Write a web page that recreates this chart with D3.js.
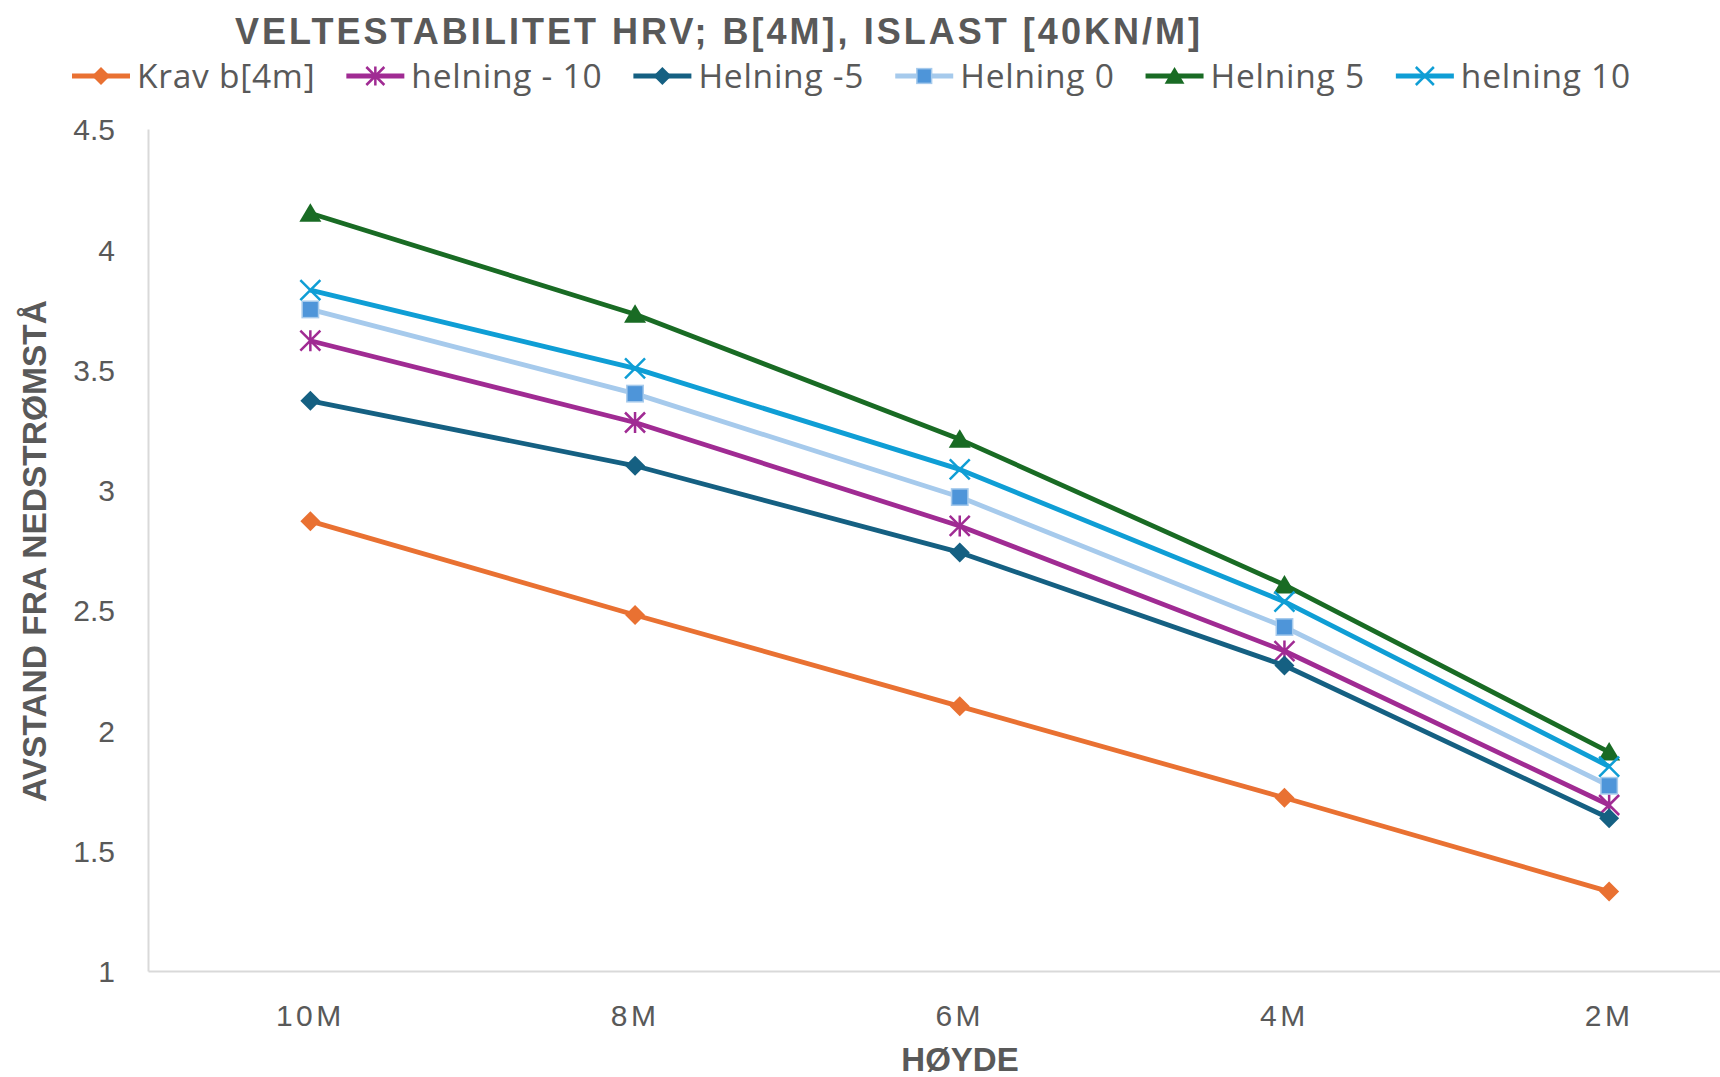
<!DOCTYPE html>
<html>
<head>
<meta charset="utf-8">
<script src="https://cdn.jsdelivr.net/npm/d3@7"></script>
<style>
  html, body { margin: 0; padding: 0; background: #fff; }
  svg { display: block; }
</style>
</head>
<body>
<svg id="chart" width="1720" height="1077"></svg>
<script>
// Heights along the structure (x axis) and tick labels
const categories = ["10M", "8M", "6M", "4M", "2M"];
const yTicks = [1, 1.5, 2, 2.5, 3, 3.5, 4, 4.5];

// Series names
const seriesNames = ["Krav b[4m]", "helning - 10", "Helning -5", "Helning 0", "Helning 5", "helning 10"];

// Distance values per series, one per height
const kravB4m   = [2.87, 2.48, 2.10, 1.72, 1.33];
const helningM10 = [3.62, 3.28, 2.85, 2.33, 1.69];
const helningM5  = [3.37, 3.10, 2.74, 2.27, 1.635];
const helning0   = [3.75, 3.40, 2.97, 2.43, 1.77];
const helning5   = [4.15, 3.73, 3.21, 2.605, 1.91];
const helning10  = [3.83, 3.505, 3.085, 2.535, 1.85];

const seriesValues = [kravB4m, helningM10, helningM5, helning0, helning5, helning10];

// Visual style per series
const styles = [
  { line: "#E97132", fill: "#E97132", stroke: "none",    marker: "diamond" },
  { line: "#A02B93", fill: "none",    stroke: "#A02B93", marker: "asterisk" },
  { line: "#156082", fill: "#156082", stroke: "none",    marker: "diamond" },
  { line: "#A6CAEC", fill: "#4E95D9", stroke: "#A6CAEC", marker: "square" },
  { line: "#196B24", fill: "#196B24", stroke: "none",    marker: "triangle" },
  { line: "#0F9ED5", fill: "none",    stroke: "#0F9ED5", marker: "cross" }
];

const svg = d3.select("#chart");
const textColor = "#595959";

// Plot area (continues past the right edge of the page)
const plot = { left: 148, right: 1771.5, top: 129, bottom: 971 };

const x = d3.scaleBand().domain(categories).range([plot.left, plot.right]);
const y = d3.scaleLinear().domain([1, 4.5]).range([plot.bottom, plot.top]);
const cx = c => x(c) + x.bandwidth() / 2;

// Axes
const yAxis = d3.axisLeft(y).tickValues(yTicks).tickSize(0).tickPadding(33)
  .tickFormat(d => String(d));
const gy = svg.append("g").attr("transform", `translate(${plot.left},0)`).call(yAxis);
gy.select(".domain").attr("stroke", "#d9d9d9").attr("stroke-width", 2);
gy.selectAll("text")
  .attr("font-family", "'Liberation Sans', Arial, sans-serif")
  .attr("font-size", 30).attr("fill", textColor).attr("dy", "0.36em");

const xAxis = d3.axisBottom(x).tickSize(0).tickPadding(34);
const gx = svg.append("g").attr("transform", `translate(0,${plot.bottom})`).call(xAxis);
gx.select(".domain").attr("stroke", "#d9d9d9").attr("stroke-width", 2);
gx.selectAll("text")
  .attr("font-family", "'Liberation Sans', Arial, sans-serif")
  .attr("font-size", 30).attr("letter-spacing", 3.5).attr("fill", textColor);

// Marker shapes
function drawMarker(g, type, st, size) {
  const s = size / 2;
  if (type === "diamond") {
    g.append("path").attr("d", `M0,${-s}L${s},0L0,${s}L${-s},0Z`).attr("fill", st.fill);
  } else if (type === "square") {
    const h = s * 0.82;
    g.append("rect").attr("x", -h).attr("y", -h).attr("width", 2 * h).attr("height", 2 * h)
      .attr("fill", st.fill).attr("stroke", st.stroke).attr("stroke-width", 1.5);
  } else if (type === "triangle") {
    g.append("path").attr("d", `M0,${-s}L${s * 1.1},${s * 0.85}L${-s * 1.1},${s * 0.85}Z`)
      .attr("fill", st.fill);
  } else if (type === "cross") {
    g.append("path").attr("d", `M${-s},${-s}L${s},${s}M${s},${-s}L${-s},${s}`)
      .attr("stroke", st.stroke).attr("stroke-width", 2.5).attr("fill", "none");
  } else if (type === "asterisk") {
    g.append("path").attr("d", `M${-s},${-s}L${s},${s}M${s},${-s}L${-s},${s}M0,${-s * 1.05}L0,${s * 1.05}`)
      .attr("stroke", st.stroke).attr("stroke-width", 2.5).attr("fill", "none");
  }
}

// Lines and markers
const line = d3.line().x((d, i) => cx(categories[i])).y(d => y(d));
const seriesG = svg.append("g");
seriesValues.forEach((vals, si) => {
  const st = styles[si];
  const g = seriesG.append("g");
  g.append("path").datum(vals).attr("d", line)
    .attr("fill", "none").attr("stroke", st.line).attr("stroke-width", 4.8)
    .attr("stroke-linejoin", "round");
  vals.forEach((v, i) => {
    const m = g.append("g").attr("transform", `translate(${cx(categories[i])},${y(v)})`);
    drawMarker(m, st.marker, st, 20);
  });
});

// Title
svg.append("text")
  .attr("x", 235).attr("y", 44)
  .attr("font-family", "'Liberation Sans', Arial, sans-serif")
  .attr("font-weight", "bold").attr("font-size", 36).attr("fill", textColor)
  .attr("textLength", 965).attr("lengthAdjust", "spacing")
  .text("VELTESTABILITET HRV; B[4M], ISLAST [40KN/M]");

// Legend
let lx = 72;
const legendY = 76;
seriesNames.forEach((name, si) => {
  const st = styles[si];
  const g = svg.append("g");
  g.append("line").attr("x1", lx).attr("x2", lx + 58).attr("y1", legendY).attr("y2", legendY)
    .attr("stroke", st.line).attr("stroke-width", 4.8);
  const m = g.append("g").attr("transform", `translate(${lx + 29},${legendY})`);
  drawMarker(m, st.marker, st, 18);
  const t = g.append("text").attr("x", lx + 65).attr("y", 88)
    .attr("font-family", "'Open Sans', sans-serif").attr("font-size", 33.5)
    .attr("letter-spacing", 0.75)
    .attr("fill", textColor).text(name);
  lx += 65 + t.node().getComputedTextLength() + 31;
});

// Axis titles
svg.append("text")
  .attr("x", 960).attr("y", 1071).attr("text-anchor", "middle")
  .attr("font-family", "'Liberation Sans', Arial, sans-serif")
  .attr("font-weight", "bold").attr("font-size", 33).attr("fill", textColor)
  .text("HØYDE");

svg.append("text")
  .attr("transform", "translate(46,551) rotate(-90)").attr("text-anchor", "middle")
  .attr("font-family", "'Liberation Sans', Arial, sans-serif")
  .attr("font-weight", "bold").attr("font-size", 34).attr("fill", textColor)
  .attr("textLength", 502).attr("lengthAdjust", "spacingAndGlyphs")
  .text("AVSTAND FRA NEDSTRØMSTÅ");
</script>
</body>
</html>
